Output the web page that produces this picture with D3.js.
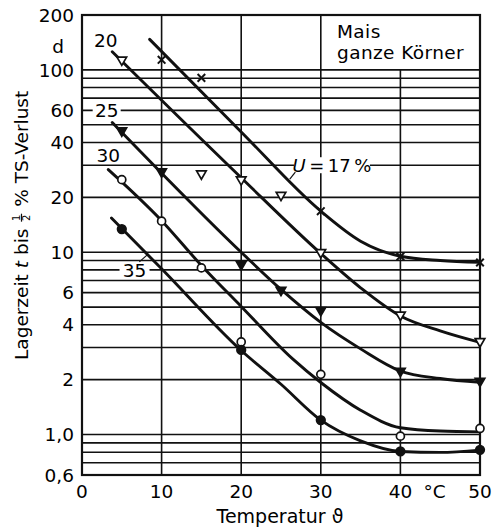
<!DOCTYPE html>
<html>
<head>
<meta charset="utf-8">
<script src="https://cdn.jsdelivr.net/npm/d3@7"></script>
<style>
    body { margin: 0; background: #fff; }
    svg { display: block; font-family: 'DejaVu Sans', sans-serif; }
</style>
</head>
<body>
<svg id="chart"></svg>
<script>
const fullWidth = 494;
const fullHeight = 527;

const margin = {top: 15, right: 14, bottom: 52, left: 82};

// axis ticks
const xTicks = [0, 10, 20, 30, 40, 50];
const yTicks = [0.6, 1, 2, 4, 6, 10, 20, 40, 60, 100, 200];
const yTickLabels = ['0,6', '1,0', '2', '4', '6', '10', '20', '40', '60', '100', '200'];
const yGrid = [0.7, 0.8, 0.9, 1, 2, 3, 4, 5, 6, 7, 8, 9, 10, 20, 30, 40, 50, 60, 70, 80, 90, 100];

// curves: [temperature °C, storage time d], one per moisture content U
const curve17 = [[8.5, 147], [20, 45.7], [30, 16.8], [35, 11.5], [40, 9.5], [45, 9.0], [50, 8.8]];
const curve20 = [[3.8, 125.6], [20, 25.6], [30, 9.84], [35, 6.38], [40, 4.47], [45, 3.7], [50, 3.2]];
const curve25 = [[3.8, 51.5], [20, 10], [25, 6.25], [30, 4.12], [35, 2.95], [40, 2.23], [45, 2.03], [50, 1.935]];
const curve30 = [[3.3, 28.4], [10, 14.9], [15, 8.46], [20, 5.04], [26.5, 2.59], [30, 1.93], [35, 1.36], [40, 1.09], [45, 1.045], [50, 1.035]];
const curve35 = [[3.7, 15.4], [10, 8.11], [20, 2.89], [25, 1.888], [30, 1.2], [35, 0.924], [40, 0.808], [45, 0.798], [50, 0.822]];

// measured points
const points17 = [[10, 113.5], [15, 90.4], [30, 16.8], [40, 9.47], [50, 8.78]];
const points20 = [[5, 112], [15, 26.6], [20, 24.7], [25, 20.3], [30, 9.84], [40, 4.47], [50, 3.2]];
const points25 = [[5, 45.8], [10, 27.3], [20, 8.46], [25, 6.12], [30, 4.74], [40, 2.2], [50, 1.94]];
const points30 = [[5, 25], [10, 14.8], [15, 8.2], [20, 3.22], [30, 2.14], [40, 0.98], [50, 1.08]];
const points35 = [[5, 13.4], [20, 2.91], [30, 1.2], [40, 0.808], [50, 0.825]];

const width = fullWidth - margin.left - margin.right;
const height = fullHeight - margin.top - margin.bottom;

const x = d3.scaleLinear().domain([0, 50]).range([0, width]);
const y = d3.scaleLog().domain([0.6, 200]).range([height, 0]);

const svg = d3.select('#chart')
    .attr('width', fullWidth)
    .attr('height', fullHeight);

const g = svg.append('g')
    .attr('transform', `translate(${margin.left}, ${margin.top})`);

// grid
const grid = g.append('g').attr('stroke', '#111').attr('stroke-width', 1.6);

grid.selectAll('.hgrid').data(yGrid)
    .enter().append('line')
        .attr('x1', 0).attr('x2', width)
        .attr('y1', d => y(d)).attr('y2', d => y(d));

grid.selectAll('.vgrid').data([10, 20, 30, 40])
    .enter().append('line')
        .attr('x1', d => x(d)).attr('x2', d => x(d))
        .attr('y1', height)
        .attr('y2', d => d === 40 ? y(100) : 0);

g.append('rect')
    .attr('width', width).attr('height', height)
    .attr('fill', 'none').attr('stroke', '#111').attr('stroke-width', 2.2);

// ticks
g.append('g').attr('font-size', 18.5).attr('text-anchor', 'end')
    .selectAll('text').data(yTicks)
    .enter().append('text')
        .attr('x', -8)
        .attr('y', d => y(d))
        .attr('dy', '0.36em')
        .text((d, i) => yTickLabels[i]);

g.append('text').attr('x', -24).attr('y', 38).attr('font-size', 18.5)
    .attr('text-anchor', 'middle').text('d');

g.append('g').attr('font-size', 18.5).attr('text-anchor', 'middle')
    .selectAll('text').data(xTicks)
    .enter().append('text')
        .attr('x', d => x(d))
        .attr('y', height + 23)
        .text(d => d);

g.append('text').attr('x', x(44.3)).attr('y', height + 23).attr('font-size', 18.5)
    .attr('text-anchor', 'middle').text('°C');

g.append('text').attr('x', 198).attr('y', height + 48).attr('font-size', 19)
    .attr('text-anchor', 'middle').text('Temperatur ϑ');

// y axis title, built piece by piece
const yTitle = svg.append('g').attr('transform', 'translate(28, 360) rotate(-90)')
    .attr('font-size', 18.5);
let pos = 0;
function piece(txt, style) {
    const t = yTitle.append('text').attr('x', pos).attr('y', 0).text(txt)
        .style('white-space', 'pre');
    if (style) t.attr('font-style', style);
    pos += t.node().getComputedTextLength();
}
piece('Lagerzeit ');
piece('t', 'italic');
piece(' bis ');
yTitle.append('text').attr('x', pos + 5).attr('y', -8.5).attr('font-size', 10)
    .attr('text-anchor', 'middle').text('1');
yTitle.append('line').attr('x1', pos + 1).attr('x2', pos + 9)
    .attr('y1', -6.5).attr('y2', -6.5).attr('stroke', '#111').attr('stroke-width', 1.2);
yTitle.append('text').attr('x', pos + 5).attr('y', 2).attr('font-size', 10)
    .attr('text-anchor', 'middle').text('2');
pos += 10;
piece(' % TS-Verlust');

// box text
const box = g.append('g').attr('font-size', 18.5).attr('letter-spacing', 0.4);
box.append('text').attr('x', 255).attr('y', 23).text('Mais');
box.append('text').attr('x', 255).attr('y', 44).text('ganze Körner');

// curves
const line = d3.line()
    .x(d => x(d[0]))
    .y(d => y(d[1]))
    .curve(d3.curveMonotoneX);

const curves = g.append('g').attr('fill', 'none').attr('stroke', '#111')
    .attr('stroke-width', 2.9).attr('stroke-linecap', 'round');
[curve17, curve20, curve25, curve30, curve35].forEach(c => {
    curves.append('path').datum(c).attr('d', line);
});

// curve labels
const labels = g.append('g').attr('font-size', 18.5);

function boxedLabel(cx, cy, w, h) {
    labels.append('rect')
        .attr('x', cx - w / 2).attr('y', cy - h / 2)
        .attr('width', w).attr('height', h).attr('fill', '#fff');
}

labels.append('text').attr('x', x(3)).attr('y', 32).attr('text-anchor', 'middle').text('20');

boxedLabel(x(3.1), y(60), 28, 14);
labels.append('text').attr('x', x(3.1)).attr('y', y(60)).attr('dy', '0.36em')
    .attr('text-anchor', 'middle').text('25');

labels.append('text').attr('x', x(3.3)).attr('y', y(30) - 3).attr('text-anchor', 'middle').text('30');

boxedLabel(x(6.6), y(8), 30, 14);
labels.append('text').attr('x', x(6.6)).attr('y', y(8)).attr('dy', '0.36em')
    .attr('text-anchor', 'middle').text('35');
labels.append('line').attr('x1', x(7.2)).attr('y1', y(8) - 8)
    .attr('x2', x(8.2)).attr('y2', y(8) - 15).attr('stroke', '#111').attr('stroke-width', 1.2);

boxedLabel(x(31.4), y(30), 76, 16);
const uLabel = labels.append('text').attr('x', x(31.4)).attr('y', y(30)).attr('dy', '0.36em')
    .attr('text-anchor', 'middle').attr('font-size', 18);
uLabel.append('tspan').attr('font-style', 'italic').text('U');
uLabel.append('tspan').text('\u2009=\u200917\u2009%');
labels.append('line').attr('x1', x(26.8)).attr('y1', y(30) + 7)
    .attr('x2', x(26.1)).attr('y2', y(30) + 14).attr('stroke', '#111').attr('stroke-width', 1.2);

// markers
const markers = g.append('g').attr('stroke', '#111').attr('stroke-width', 1.7);

markers.selectAll('.m17').data(points17)
    .enter().append('path')
        .attr('transform', d => `translate(${x(d[0])}, ${y(d[1])})`)
        .attr('d', 'M-3.8,-3.8L3.8,3.8M-3.8,3.8L3.8,-3.8')
        .attr('stroke-width', 2);

const triangle = 'M-4.8,-3.8L4.8,-3.8L0,4.5Z';
markers.selectAll('.m20').data(points20)
    .enter().append('path')
        .attr('transform', d => `translate(${x(d[0])}, ${y(d[1])})`)
        .attr('d', triangle).attr('fill', '#fff');

markers.selectAll('.m25').data(points25)
    .enter().append('path')
        .attr('transform', d => `translate(${x(d[0])}, ${y(d[1])})`)
        .attr('d', triangle).attr('fill', '#111');

markers.selectAll('.m30').data(points30)
    .enter().append('circle')
        .attr('cx', d => x(d[0])).attr('cy', d => y(d[1]))
        .attr('r', 4).attr('fill', '#fff');

markers.selectAll('.m35').data(points35)
    .enter().append('circle')
        .attr('cx', d => x(d[0])).attr('cy', d => y(d[1]))
        .attr('r', 4.3).attr('fill', '#111');
</script>
</body>
</html>
